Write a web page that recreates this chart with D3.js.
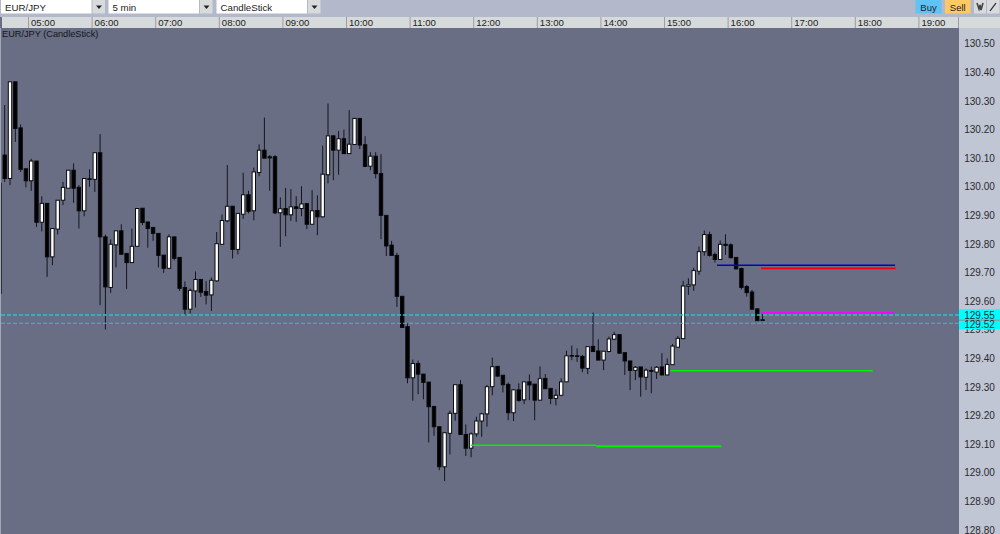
<!DOCTYPE html>
<html><head><meta charset="utf-8">
<script src="https://cdn.jsdelivr.net/npm/d3@7"></script>
<style>
html,body{margin:0;padding:0;background:#696e84;overflow:hidden}
svg{display:block}
text{font-family:"Liberation Sans",Arial,sans-serif}
</style></head><body>
<svg id="c" width="1000" height="534"></svg>
<script>
const firstCandleMinute = 273, candleMinutes = 5;
const opens = [130.011,130.110,130.028,130.366,130.205,130.062,130.020,130.089,129.875,129.941,129.754,129.851,129.952,129.994,130.057,129.997,129.915,130.027,130.025,130.118,129.824,129.647,129.796,129.845,129.766,129.734,129.791,129.924,129.876,129.857,129.836,129.760,129.714,129.824,129.752,129.647,129.571,129.635,129.675,129.633,129.621,129.670,129.798,129.880,129.931,129.780,129.903,129.971,129.915,130.049,130.127,130.104,130.104,129.908,129.923,129.901,129.929,129.923,129.940,129.868,129.916,129.894,130.041,130.177,130.127,130.167,130.115,130.147,130.238,130.146,130.071,130.106,130.045,129.899,129.795,129.759,129.616,129.510,129.331,129.381,129.344,129.316,129.231,129.160,129.020,129.137,129.207,129.307,129.133,129.085,129.135,129.180,129.205,129.300,129.371,129.340,129.308,129.209,129.289,129.254,129.317,129.309,129.253,129.329,129.294,129.259,129.270,129.317,129.409,129.408,129.406,129.364,129.441,129.425,129.393,129.423,129.466,129.482,129.419,129.390,129.357,129.369,129.333,129.357,129.351,129.369,129.341,129.377,129.438,129.468,129.651,129.656,129.704,129.772,129.832,129.762,129.745,129.798,129.796,129.752,129.713,129.650,129.631,129.572,129.534];
const closes = [129.626,130.028,130.366,130.203,130.060,130.020,130.089,129.875,129.941,129.754,129.853,129.952,129.997,130.057,129.994,129.915,130.028,130.025,130.118,129.824,129.649,129.798,129.845,129.763,129.734,129.791,129.923,129.874,129.853,129.836,129.759,129.714,129.824,129.749,129.644,129.571,129.637,129.675,129.630,129.620,129.672,129.800,129.881,129.931,129.780,129.906,129.971,129.913,130.051,130.127,130.099,130.100,129.908,129.922,129.901,129.929,129.923,129.939,129.868,129.915,129.894,130.043,130.177,130.127,130.167,130.115,130.148,130.238,130.145,130.070,130.106,130.045,129.899,129.792,129.759,129.616,129.507,129.331,129.381,129.344,129.315,129.230,129.160,129.020,129.139,129.207,129.307,129.133,129.085,129.135,129.180,129.205,129.300,129.370,129.337,129.307,129.209,129.289,129.252,129.317,129.306,129.253,129.328,129.293,129.259,129.270,129.317,129.408,129.407,129.406,129.365,129.440,129.423,129.393,129.424,129.467,129.482,129.417,129.390,129.357,129.368,129.334,129.358,129.354,129.368,129.341,129.378,129.442,129.469,129.652,129.656,129.706,129.772,129.832,129.759,129.745,129.798,129.794,129.751,129.712,129.647,129.629,129.571,129.531,129.532];
const highs = [130.011,130.285,130.366,130.366,130.217,130.062,130.097,130.089,129.966,129.941,129.853,129.952,130.016,130.057,130.081,130.005,130.028,130.060,130.118,130.183,129.832,129.815,129.847,129.868,129.766,129.853,129.923,129.924,129.876,129.857,129.836,129.760,129.833,129.824,129.752,129.668,129.643,129.703,129.675,129.669,129.682,129.841,129.902,130.075,129.931,129.906,130.048,129.985,130.066,130.147,130.241,130.110,130.110,129.962,129.995,129.991,129.966,130.001,129.943,129.987,129.969,130.143,130.290,130.180,130.194,130.199,130.267,130.240,130.238,130.176,130.120,130.120,130.113,129.899,129.810,129.768,129.616,129.521,129.395,129.391,129.344,129.316,129.231,129.160,129.142,129.216,129.307,129.323,129.168,129.140,129.195,129.209,129.306,129.402,129.372,129.340,129.315,129.292,129.312,129.317,129.343,129.309,129.371,129.344,129.294,129.291,129.329,129.426,129.444,129.434,129.411,129.440,129.559,129.466,129.424,129.475,129.492,129.482,129.419,129.390,129.372,129.369,129.364,129.370,129.372,129.417,129.399,129.449,129.477,129.670,129.679,129.716,129.790,129.846,129.842,129.769,129.811,129.833,129.801,129.752,129.716,129.656,129.638,129.574,129.557];
const lows = [129.626,130.016,130.005,130.156,130.051,129.997,129.985,129.859,129.843,129.684,129.725,129.832,129.935,129.994,129.943,129.853,129.896,129.999,129.981,129.585,129.500,129.628,129.717,129.763,129.642,129.734,129.789,129.865,129.786,129.810,129.717,129.698,129.712,129.742,129.635,129.550,129.556,129.577,129.614,129.588,129.565,129.667,129.796,129.875,129.748,129.763,129.887,129.906,129.882,130.036,130.099,129.985,129.903,129.789,129.826,129.880,129.876,129.896,129.851,129.866,129.830,129.892,130.011,130.022,130.041,130.115,130.115,130.145,130.131,130.069,130.057,130.028,129.816,129.757,129.757,129.579,129.507,129.312,129.251,129.274,129.256,129.105,129.128,129.008,128.970,129.063,129.181,129.131,129.058,129.053,129.125,129.125,129.160,129.270,129.335,129.280,129.183,129.180,129.247,129.239,129.253,129.183,129.251,129.293,129.239,129.235,129.267,129.316,129.393,129.387,129.351,129.344,129.422,129.393,129.358,129.420,129.463,129.417,129.341,129.288,129.323,129.265,129.288,129.277,129.327,129.341,129.340,129.376,129.438,129.467,129.621,129.635,129.691,129.758,129.755,129.734,129.743,129.761,129.749,129.710,129.640,129.615,129.571,129.531,129.532];
const hourTicks = [5,6,7,8,9,10,11,12,13,14,15,16,17,18,19];
const priceTicks = [130.5,130.4,130.3,130.2,130.1,130.0,129.9,129.8,129.7,129.6,129.5,129.4,129.3,129.2,129.1,129.0,128.9,128.8];
const currentPrices = [129.55,129.52];
const levelStarts = [718,836,906,950,991.5,991.5];
const levelEnds = [836,954,1097,1118,1118.5,1117];
const levelPrices = [129.0955,129.092,129.356,129.7245,129.714,129.558];
const levelColors = ["#00f000","#00f000","#00f000","#0000c8","#f00010","#ff00ff"];
const levelWidths = [1.4,2,1.6,1.6,1.8,2];
const selectors = ["EUR/JPY","5 min","CandleStick"];

const svg = d3.select("#c");
const W=1000,H=534,panelX=959,plotTop=28;
const x = d3.scaleLinear().domain([firstCandleMinute,firstCandleMinute+5*100]).range([-0.6,529.4]);
const y = d3.scaleLinear().domain([130.5,128.8]).range([43.5,529.7]);

svg.append("rect").attr("width",W).attr("height",H).attr("fill","#696e84");
// toolbar
svg.append("rect").attr("width",W).attr("height",17).attr("fill","#b3b8cb");
const boxX=[1,108.5,216.5], boxW=[90.5,90.5,90.5];
selectors.forEach((s,i)=>{
  const g=svg.append("g");
  g.append("rect").attr("x",boxX[i]).attr("y",0).attr("width",boxW[i]).attr("height",13.5).attr("fill","#ffffff");
  g.append("rect").attr("x",boxX[i]+boxW[i]+1).attr("y",0).attr("width",12.5).attr("height",13.5).attr("fill","#d8dadc");
  g.append("path").attr("d",d3.line()([[boxX[i]+boxW[i]+4.5,5.5],[boxX[i]+boxW[i]+10.5,5.5],[boxX[i]+boxW[i]+7.5,9]])).attr("fill","#222");
  g.append("text").attr("x",boxX[i]+4).attr("y",11).attr("font-size",9.7).attr("fill","#222").text(s);
});
[["Buy",915.5,26,"#5fc3f6"],["Sell",945,25.5,"#fdc962"]].forEach(b=>{
  svg.append("rect").attr("x",b[1]).attr("y",0).attr("width",b[2]).attr("height",13.5).attr("fill",b[3]);
  svg.append("text").attr("x",b[1]+b[2]/2).attr("y",11).attr("font-size",9.5).attr("text-anchor","middle").attr("fill","#222").text(b[0]);
});
svg.append("rect").attr("x",974).attr("y",0).attr("width",12).attr("height",13.5).attr("fill","#d8dadc");
svg.append("rect").attr("x",987).attr("y",0).attr("width",12.5).attr("height",13.5).attr("fill","#d8dadc");
svg.append("path").attr("d","M977 3L979 9L980 5L981 10L983 3").attr("fill","none").attr("stroke","#444").attr("stroke-width",1.6);
svg.append("path").attr("d","M990 11L996 3").attr("fill","none").attr("stroke","#222").attr("stroke-width",1.2);

// time strip
svg.append("rect").attr("x",2).attr("y",17).attr("width",W-2).attr("height",11).attr("fill","#d7dadb");
const gx=svg.append("g").attr("transform","translate(0,28)")
  .call(d3.axisTop(x).tickValues(hourTicks.map(h=>h*60)).tickSize(11).tickSizeOuter(0)
    .tickFormat(m=>String(m/60).padStart(2,"0")+":00"));
gx.select(".domain").remove();
gx.selectAll(".tick line").attr("stroke","#9a9ea6");
gx.selectAll(".tick text").attr("text-anchor","start").attr("x",2.5).attr("y",-2.5).attr("dy",0).attr("font-size",9.6).attr("font-family","Liberation Sans").attr("fill","#222");
svg.append("line").attr("x1",958.5).attr("x2",958.5).attr("y1",17).attr("y2",28).attr("stroke","#9a9ea6");

svg.append("text").attr("x",2).attr("y",36.5).attr("font-size",9.2).attr("fill","#15151d").text("EUR/JPY (CandleStick)");

// candles
const candles = d3.range(opens.length).map(i=>({t:firstCandleMinute+candleMinutes*i,o:opens[i],c:closes[i],h:highs[i],l:lows[i]}));
const plot=svg.append("g");
plot.selectAll("line.w").data(candles).join("line").attr("class","w")
  .attr("x1",d=>x(d.t)).attr("x2",d=>x(d.t)).attr("y1",d=>y(d.h)).attr("y2",d=>y(d.l))
  .attr("stroke","#14161c").attr("stroke-width",1);
plot.selectAll("rect.b").data(candles).join("rect").attr("class","b")
  .attr("x",d=>x(d.t)-1.7).attr("width",3.4)
  .attr("y",d=>y(Math.max(d.o,d.c))).attr("height",d=>Math.max(0.6,Math.abs(y(d.o)-y(d.c))))
  .attr("fill",d=>d.c>=d.o?"#ffffff":"#000000").attr("stroke","#0a0a0e").attr("stroke-width",1);

// current price lines
const dashW=[1.6,1.1], dashShift=[-0.2,-0.5];
currentPrices.forEach((p,i)=>{
  svg.append("line").attr("x1",1).attr("x2",panelX).attr("y1",y(p)+dashShift[i]).attr("y2",y(p)+dashShift[i])
    .attr("stroke","#22c8d2").attr("stroke-width",dashW[i]).attr("stroke-dasharray","4 2");
});
// level lines
levelPrices.forEach((p,i)=>{
  svg.append("line").attr("x1",x(levelStarts[i])).attr("x2",x(levelEnds[i])).attr("y1",y(p)).attr("y2",y(p))
    .attr("stroke",levelColors[i]).attr("stroke-width",levelWidths[i]);
});
svg.append("rect").attr("x",0).attr("y",28).attr("width",1).attr("height",H-28).attr("fill","#a3a7b5");

// price panel
svg.append("rect").attr("x",panelX).attr("y",28).attr("width",W-panelX).attr("height",H-28).attr("fill","#c1c6d4");
const gy=svg.append("g").attr("transform",`translate(${panelX},0)`)
  .call(d3.axisRight(y).tickValues(priceTicks).tickSize(0).tickFormat(d3.format(".2f")));
gy.select(".domain").remove();
gy.selectAll(".tick text").attr("x",20.5).attr("dy","0.33em").attr("text-anchor","middle").attr("font-size",10).attr("font-family","Liberation Sans").attr("fill","#2a2a30");
const tagTop=[309.3,321], tagH=[10,8.4];
currentPrices.forEach((p,i)=>{
  svg.append("rect").attr("x",panelX).attr("y",tagTop[i]).attr("width",W-panelX).attr("height",tagH[i]).attr("fill","#00ffff");
});
svg.append("rect").attr("x",panelX).attr("y",319.3).attr("width",W-panelX).attr("height",1.7).attr("fill","#7fa6ae");
const tagBase=[318.5,327.5];
currentPrices.forEach((p,i)=>{
  svg.append("text").attr("x",979.5).attr("y",tagBase[i]).attr("text-anchor","middle").attr("font-size",10).attr("fill","#1a2a30").text(d3.format(".2f")(p));
});
</script>
</body></html>
